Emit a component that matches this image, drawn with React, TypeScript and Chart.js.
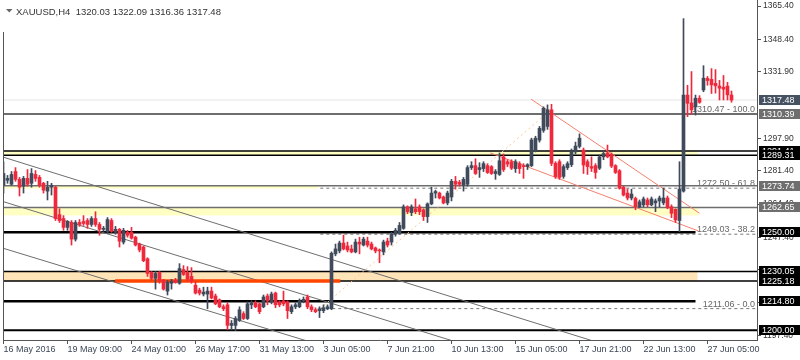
import React, { useEffect, useRef } from 'react';
import { Chart, registerables } from 'chart.js';

Chart.register(...registerables);

// ---------- DATA ----------
const opens = [
  1274, 1276.5, 1274.5, 1281, 1277, 1273.5, 1277.5, 1275, 1279.5, 1278,
  1275, 1271, 1273, 1273, 1259, 1257, 1252.5, 1255, 1246.5, 1255,
  1255.5, 1256, 1254, 1257, 1254, 1251.5, 1250.5, 1256, 1250, 1251.5,
  1245, 1250, 1250, 1247.5, 1244, 1242.5, 1236.5, 1229.5, 1226.5, 1229.5,
  1225.5, 1220, 1224, 1225.5, 1224, 1231, 1229.5, 1227.5, 1223, 1220.5,
  1218.5, 1218.5, 1220, 1217.5, 1215.5, 1212, 1213, 1202.5, 1202.5, 1205,
  1208.5, 1206, 1213, 1214, 1213.5, 1212, 1217.5, 1214.5, 1219, 1214.5,
  1215, 1214.5, 1209.5, 1212, 1212, 1215, 1217, 1212, 1210.5, 1210,
  1210, 1211, 1211, 1239, 1240.5, 1244.5, 1243, 1241.5, 1240, 1245,
  1243.5, 1245.5, 1244, 1242, 1241, 1240, 1245.5, 1245, 1249, 1249.5,
  1252, 1263, 1260, 1262, 1263, 1261.5, 1258, 1264.5, 1270, 1270,
  1268, 1265, 1268, 1276, 1275.5, 1274, 1274.5, 1283, 1284, 1282,
  1282.5, 1284, 1283.5, 1280, 1279.5, 1288.5, 1286, 1286, 1282.5, 1285,
  1284, 1283.5, 1284, 1292, 1297, 1302, 1304, 1312.5, 1285.2, 1286,
  1278.5, 1283, 1284.5, 1291, 1293.8, 1292, 1286, 1283.5, 1284, 1282.7,
  1288.5, 1290.5, 1289.8, 1284, 1281.4, 1273, 1270, 1267.5, 1267.3, 1263,
  1264, 1266.5, 1264, 1265, 1266, 1265, 1267.5, 1263, 1261.7, 1256,
  1271, 1320, 1316, 1314, 1318.4, 1322.6, 1328.5, 1328, 1326, 1324.6,
  1324, 1324.6, 1320.03,
];
const highs = [
  1286, 1279, 1281, 1283, 1278, 1278.5, 1282, 1282.5, 1281.5, 1279,
  1275.5, 1276, 1275, 1273.5, 1262, 1258.5, 1256, 1256, 1256, 1256.5,
  1258.5, 1257, 1258, 1260.5, 1255, 1253, 1257.5, 1257, 1253, 1252,
  1252, 1251, 1252.5, 1248, 1244.5, 1243, 1237, 1230, 1230, 1230,
  1226, 1225.5, 1226, 1226.5, 1234, 1233, 1232.5, 1232, 1225, 1221.5,
  1222, 1222, 1222, 1218.5, 1216, 1213, 1214, 1205, 1207, 1212,
  1209.5, 1214.5, 1215, 1215, 1214, 1218, 1218.5, 1219.5, 1219.5, 1215,
  1220, 1215, 1213, 1214, 1216, 1217, 1218, 1213, 1211.5, 1212,
  1213, 1213, 1240, 1244, 1245.5, 1248.6, 1245, 1243.5, 1246.5, 1247.5,
  1247.5, 1247.5, 1245, 1242.5, 1241.5, 1246, 1247, 1250, 1252, 1255,
  1264, 1263.5, 1264, 1267, 1264, 1262, 1265, 1273, 1271.5, 1270.5,
  1268.5, 1271, 1277, 1278.5, 1276.5, 1278, 1284, 1286, 1287.5, 1285.5,
  1286, 1285, 1284, 1282, 1290.5, 1290, 1287, 1287, 1287, 1286,
  1285, 1285, 1298, 1299, 1304, 1314, 1315, 1315.3, 1286, 1287,
  1284.5, 1286, 1292.5, 1296, 1300.2, 1293, 1287, 1288.5, 1285, 1289.5,
  1291.5, 1294.5, 1290.5, 1284.5, 1282, 1273.5, 1272, 1272, 1268, 1266.5,
  1268, 1267.5, 1268, 1267, 1268.5, 1272.5, 1268.5, 1264, 1262, 1286,
  1359, 1325, 1332, 1320, 1319.7, 1335, 1329.5, 1333.5, 1333, 1327.5,
  1330, 1326.5, 1322.09,
];
const lows = [
  1270, 1275, 1274, 1276, 1268.5, 1270, 1273.5, 1273, 1276, 1273,
  1270, 1266.5, 1269, 1256, 1255, 1251, 1251, 1243.5, 1245.5, 1253,
  1253.5, 1252, 1253, 1253, 1248.5, 1250.5, 1249.5, 1250, 1249, 1242.5,
  1244, 1247.5, 1246.5, 1243, 1240, 1235, 1227.5, 1225.5, 1221, 1224,
  1220.5, 1218, 1221, 1224, 1223.5, 1228, 1225, 1224, 1218.5, 1218,
  1217.5, 1211, 1216, 1213, 1211.5, 1210, 1200.3, 1200.2, 1199.8, 1204.5,
  1205.5, 1205.5, 1211, 1211.5, 1208.5, 1211.5, 1213, 1213.5, 1211.5, 1212,
  1212.5, 1206, 1208.5, 1211, 1211.5, 1214, 1211, 1209.5, 1209, 1206.5,
  1209, 1210.5, 1210.5, 1238, 1239.5, 1241, 1240, 1239.5, 1239.5, 1239,
  1243, 1242.5, 1241, 1239.5, 1234.5, 1238.5, 1242.5, 1243.5, 1248, 1249,
  1251.5, 1259.5, 1258.5, 1259.5, 1259, 1256, 1255, 1264, 1267.5, 1267,
  1264.5, 1264, 1266, 1272, 1273.5, 1271, 1273.5, 1282, 1279.5, 1278,
  1281, 1280, 1279.5, 1277, 1279, 1281, 1283.5, 1282, 1280.5, 1280,
  1277.5, 1282, 1283.5, 1291, 1296, 1301, 1302.5, 1284, 1277.5, 1277,
  1277.5, 1282, 1283.5, 1290, 1293, 1280, 1279.5, 1281, 1277.5, 1282,
  1287, 1288, 1283, 1280, 1272, 1268.5, 1266.5, 1266.5, 1261.5, 1262.5,
  1263, 1263, 1263.5, 1260.5, 1263, 1264, 1262, 1257.5, 1255, 1250.3,
  1270.5, 1309, 1310, 1309.8, 1315.8, 1321.7, 1325, 1320.8, 1321, 1317.5,
  1317.5, 1317.5, 1316.36,
];
const closes = [
  1280, 1277.5, 1279.5, 1277, 1273, 1277.5, 1274.5, 1280, 1277.5, 1274,
  1271.5, 1273, 1274, 1257, 1256, 1252.5, 1255.5, 1246.5, 1255, 1254,
  1254.5, 1254, 1257, 1254, 1251.5, 1252, 1256.5, 1250.5, 1251.5, 1245.5,
  1251, 1248.5, 1247, 1243.5, 1241, 1235.5, 1229, 1226.5, 1229, 1225.5,
  1221, 1224.5, 1225, 1224.5, 1231.5, 1228.5, 1226, 1225, 1219, 1219,
  1219.5, 1220, 1216.5, 1213.5, 1212, 1211, 1202.5, 1203.5, 1206, 1210.5,
  1206, 1213.5, 1214, 1212, 1209.5, 1217, 1215, 1218.5, 1213, 1213,
  1213.5, 1210, 1212, 1213, 1215, 1215.8, 1212, 1210.5, 1209.5, 1211,
  1211.5, 1212, 1239.3, 1241.5, 1244.5, 1241.5, 1241, 1240, 1245, 1244,
  1246.5, 1243.5, 1241.5, 1240.5, 1240.5, 1245, 1243.5, 1249, 1251, 1253.5,
  1263, 1260.5, 1263, 1260.5, 1260.5, 1258, 1264.5, 1270, 1270.8, 1267.5,
  1265, 1270, 1276, 1274.5, 1274.5, 1277, 1283, 1284, 1280, 1283,
  1285, 1280.5, 1280, 1281, 1286.5, 1282, 1284.8, 1282.7, 1286, 1282.5,
  1283.5, 1284.5, 1297.1, 1298, 1303, 1313.3, 1312.5, 1285.2, 1278.4, 1278,
  1283.5, 1285, 1291.3, 1294, 1298, 1284.3, 1283.5, 1282.7, 1280.5, 1288.5,
  1290.2, 1288.5, 1283.8, 1280.5, 1272.5, 1269, 1267.5, 1269.5, 1263, 1265.5,
  1267, 1264, 1267, 1266, 1267.5, 1267.5, 1262.5, 1259.7, 1256.3, 1272,
  1320, 1315.8, 1312.5, 1318.4, 1316.3, 1328.6, 1327.4, 1325.2, 1324.7, 1323.5,
  1323, 1320.1, 1317.48,
];

const xTickIndex = [0, 16, 32, 48, 64, 80, 96, 112, 128, 144, 160, 176];
const xTickLabels = [
  '16 May 2016', '19 May 09:00', '24 May 01:00', '26 May 17:00', '31 May 13:00', '3 Jun 05:00',
  '7 Jun 21:00', '10 Jun 13:00', '15 Jun 05:00', '17 Jun 21:00', '22 Jun 13:00', '27 Jun 05:00',
];
const yTickValues = [1365.4, 1348.4, 1331.9, 1297.9, 1281.4, 1264.4, 1247.4, 1230.9, 1214.4, 1197.4];

const titleText = 'XAUUSD,H4  1320.03 1322.09 1316.36 1317.48';

// horizontal price levels
const levelValues = [1317.48, 1310.39, 1291.41, 1289.31, 1273.74, 1262.65, 1250.0, 1230.05, 1225.18, 1214.8, 1200.0];
const levelEnds = [188.4, 188.4, 188.4, 188.4, 188.4, 188.4, 173, 188.4, 188.4, 173, 188.4];
const levelColors = ['#e4e4e4', '#6e6e6e', '#000000', '#000000', '#6e6e6e', '#6e6e6e', '#000000', '#000000', '#000000', '#000000', '#000000'];
const levelWidths = [1, 2, 1.5, 1.5, 1.5, 1.5, 2.5, 1.5, 1.5, 2.5, 2];

// price tags on the right axis
const tagValues = [1317.48, 1310.39, 1291.41, 1289.31, 1273.74, 1262.65, 1250.0, 1230.05, 1225.18, 1214.8, 1200.0];
const tagColors = ['#465262', '#6e6e6e', '#000000', '#000000', '#6e6e6e', '#6e6e6e', '#000000', '#000000', '#000000', '#000000', '#000000'];

// shaded zones
const bandTops = [1291.41, 1273.74, 1262.65, 1230.05];
const bandBottoms = [1289.31, 1272.3, 1258.6, 1225.18];
const bandEnds = [173.7, 78.7, 173.7, 173.5];
const bandColors = ['#ffffc4', '#ffffc4', '#ffffc4', '#ffe4b8'];

// thick orange support segment
const orangeLine = [{ x: 27.9, y: 1225.18 }, { x: 84.2, y: 1225.18 }];

// Fibonacci retracement
const fibValues = [1310.47, 1272.5, 1249.03, 1211.06];
const fibPercents = ['100.0', '61.8', '38.2', '0.0'];
const fibStart = 79.2;
const fibTrend = [{ x: 79.2, y: 1211.06 }, { x: 135.7, y: 1310.47 }];

// channel lines
const channelA = [{ x: 0, y: 1288.3 }, { x: 150, y: 1192.9 }];
const channelB = [{ x: 0, y: 1265.6 }, { x: 115, y: 1192.9 }];
const channelC = [{ x: 0, y: 1241.8 }, { x: 80, y: 1192.0 }];
const wedgeUpper = [{ x: 131.9, y: 1317.9 }, { x: 174, y: 1259.7 }];
const wedgeLower = [{ x: 121.7, y: 1290.5 }, { x: 173.7, y: 1250.7 }];

const BULL = '#3f4b5b';
const BEAR = '#f0283c';
const FONT = '"Liberation Sans", Arial, sans-serif';

const overlayPlugin = {
  id: 'overlay',
  beforeDatasetsDraw(chart: any) {
    const { ctx, chartArea, scales } = chart;
    const x = scales.x;
    const y = scales.y;
    ctx.save();
    ctx.beginPath();
    ctx.rect(chartArea.left, chartArea.top, chartArea.right - chartArea.left, chartArea.bottom - chartArea.top);
    ctx.clip();
    for (let i = 0; i < bandTops.length; i++) {
      const x0 = x.getPixelForValue(0) - 1;
      const x1 = x.getPixelForValue(bandEnds[i]);
      const y0 = y.getPixelForValue(bandTops[i]);
      const y1 = y.getPixelForValue(bandBottoms[i]);
      ctx.fillStyle = bandColors[i];
      ctx.fillRect(x0, y0, x1 - x0, y1 - y0);
    }
    // fib labels
    ctx.font = '9px ' + FONT;
    ctx.fillStyle = '#666666';
    ctx.textAlign = 'right';
    ctx.textBaseline = 'alphabetic';
    for (let i = 0; i < fibValues.length; i++) {
      const py = y.getPixelForValue(fibValues[i]);
      ctx.fillText(fibValues[i].toFixed(2) + ' - ' + fibPercents[i], chartArea.right - 2, py - 2);
    }
    ctx.restore();
  },
  afterDraw(chart: any) {
    const { ctx, chartArea, scales } = chart;
    const y = scales.y;
    ctx.save();
    // left border
    ctx.strokeStyle = '#555555';
    ctx.lineWidth = 1;
    ctx.beginPath();
    ctx.moveTo(chartArea.left + 0.5, 32);
    ctx.lineTo(chartArea.left + 0.5, chartArea.bottom);
    ctx.stroke();
    // price tags
    ctx.font = '9px ' + FONT;
    ctx.textAlign = 'left';
    ctx.textBaseline = 'middle';
    for (let i = 0; i < tagValues.length; i++) {
      const py = Math.round(y.getPixelForValue(tagValues[i]));
      ctx.fillStyle = tagColors[i];
      ctx.fillRect(chartArea.right + 2, py - 5, 800 - chartArea.right - 2, 10);
      ctx.fillStyle = '#ffffff';
      ctx.fillText(tagValues[i].toFixed(2), chartArea.right + 5, py + 0.5);
    }
    // title
    ctx.fillStyle = '#666666';
    ctx.beginPath();
    ctx.moveTo(6, 9);
    ctx.lineTo(12.5, 9);
    ctx.lineTo(9.25, 12.5);
    ctx.closePath();
    ctx.fill();
    ctx.fillStyle = '#333333';
    ctx.font = '9.5px ' + FONT;
    ctx.textBaseline = 'alphabetic';
    ctx.fillText(titleText, 16, 15);
    ctx.restore();
  },
};

function lineDs(data: any[], color: string, width: number, dash: number[] = []) {
  return {
    type: 'line' as const,
    data,
    borderColor: color,
    borderWidth: width,
    borderDash: dash,
    pointRadius: 0,
    fill: false,
    tension: 0,
    order: 5,
  };
}

export default function App() {
  const ref = useRef<HTMLCanvasElement | null>(null);

  useEffect(() => {
    document.body.style.margin = '0';
    if (!ref.current) return;
    const idx = opens.map((_, i) => i);
    const colors = idx.map((i) => (closes[i] >= opens[i] ? BULL : BEAR));

    const datasets: any[] = [
      {
        type: 'bar',
        data: idx.map((i) => ({ x: i, y: [opens[i], closes[i]] })),
        backgroundColor: colors,
        barThickness: 3,
        minBarLength: 1,
        grouped: false,
        order: 0,
      },
      {
        type: 'bar',
        data: idx.map((i) => ({ x: i, y: [lows[i], highs[i]] })),
        backgroundColor: colors,
        barThickness: 1,
        grouped: false,
        order: 1,
      },
      lineDs(orangeLine, '#ff4500', 3.5),
      lineDs(channelA, '#6e6e6e', 1),
      lineDs(channelB, '#6e6e6e', 1),
      lineDs(channelC, '#6e6e6e', 1),
      lineDs(wedgeUpper, '#f4806e', 1),
      lineDs(wedgeLower, '#f4806e', 1),
      lineDs(fibTrend, '#ffc890', 1, [2, 3]),
    ];
    levelValues.forEach((v, i) => {
      datasets.push(lineDs([{ x: -1, y: v }, { x: levelEnds[i], y: v }], levelColors[i], levelWidths[i]));
    });
    fibValues.forEach((v) => {
      datasets.push(lineDs([{ x: fibStart, y: v }, { x: 188.4, y: v }], '#777777', 1, [3, 3]));
    });

    const chart = new Chart(ref.current, {
      type: 'bar',
      data: { datasets },
      plugins: [overlayPlugin],
      options: {
        animation: false,
        responsive: false,
        events: [],
        layout: { padding: { left: 3, right: 0, top: 0, bottom: 0 }, autoPadding: false },
        plugins: { legend: { display: false }, tooltip: { enabled: false } },
        scales: {
          x: {
            type: 'linear',
            position: 'bottom',
            min: -0.125,
            max: 188.375,
            offset: false,
            grid: { display: true, drawOnChartArea: false, drawTicks: true, tickLength: 4, color: '#555555', offset: false },
            border: { display: true, color: '#555555' },
            afterBuildTicks: (s: any) => {
              s.ticks = xTickIndex.map((v) => ({ value: v }));
            },
            afterFit: (s: any) => {
              s.height = 20;
              s.paddingLeft = 0;
              s.paddingRight = 0;
            },
            ticks: {
              autoSkip: false,
              maxRotation: 0,
              minRotation: 0,
              align: 'start',
              padding: 0,
              color: '#3d4756',
              font: { family: FONT, size: 9 },
              callback: (v: any) => {
                const k = xTickIndex.indexOf(Number(v));
                return k >= 0 ? xTickLabels[k] : '';
              },
            },
          },
          y: {
            type: 'linear',
            position: 'right',
            min: 1195.05,
            max: 1368.5,
            grid: { display: true, drawOnChartArea: false, drawTicks: true, tickLength: 4, color: '#555555' },
            border: { display: true, color: '#555555' },
            afterBuildTicks: (s: any) => {
              s.ticks = yTickValues.map((v) => ({ value: v }));
            },
            afterFit: (s: any) => {
              s.width = 43;
              s.paddingTop = 0;
              s.paddingBottom = 0;
            },
            ticks: {
              autoSkip: false,
              padding: 2,
              color: '#333333',
              font: { family: FONT, size: 8.5 },
              callback: (v: any) => Number(v).toFixed(2),
            },
          },
        },
      } as any,
    });
    return () => chart.destroy();
  }, []);

  return (
    <div style={{ position: 'fixed', left: 0, top: 0, width: 800, height: 360, background: '#ffffff' }}>
      <canvas ref={ref} width={800} height={360} style={{ width: 800, height: 360, display: 'block' }} />
    </div>
  );
}
